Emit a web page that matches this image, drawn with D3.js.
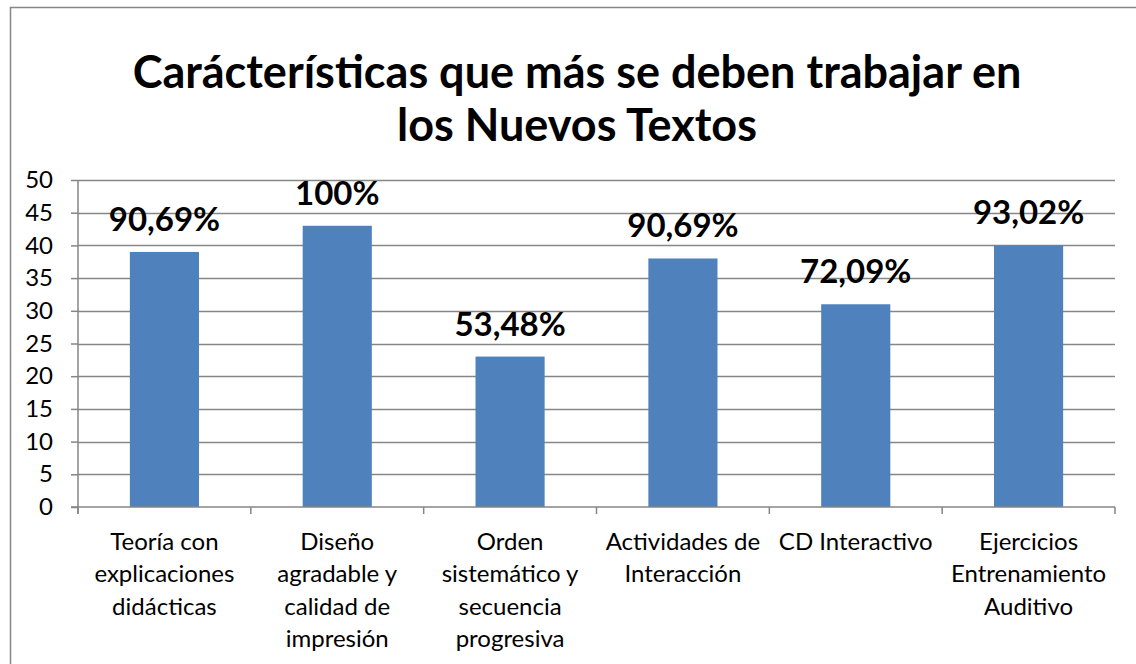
<!DOCTYPE html>
<html>
<head>
<meta charset="utf-8">
<script src="https://cdn.jsdelivr.net/npm/d3@7"></script>
<style>
  body { margin: 0; background: #fff; }
  text { font-family: Lato, "Open Sans", sans-serif; fill: #000; }
</style>
</head>
<body>
<div id="chart"></div>
<script>
// data
const categories = [
  "Teoría con\nexplicaciones\ndidácticas",
  "Diseño\nagradable y\ncalidad de\nimpresión",
  "Orden\nsistemático y\nsecuencia\nprogresiva",
  "Actividades de\nInteracción",
  "CD Interactivo",
  "Ejercicios\nEntrenamiento\nAuditivo"
];
const values = [39, 43, 23, 38, 31, 40];
const percentLabels = ["90,69%", "100%", "53,48%", "90,69%", "72,09%", "93,02%"];
const yTicks = [0, 5, 10, 15, 20, 25, 30, 35, 40, 45, 50];
const titleLines = ["Carácterísticas que más se deben trabajar en", "los Nuevos Textos"];

const width = 1136, height = 664;
const margin = { top: 180, right: 21, bottom: 157, left: 78 };

const svg = d3.select('#chart').append('svg')
  .attr('width', width)
  .attr('height', height);

// chart frame
svg.append('rect')
  .attr('x', 10.5).attr('y', 7.5)
  .attr('width', width + 20).attr('height', height + 20)
  .attr('fill', 'none')
  .attr('stroke', '#868686')
  .attr('stroke-width', 1.5);

// title
svg.append('text')
  .attr('x', 577)
  .attr('y', 88)
  .attr('text-anchor', 'middle')
  .style('font-weight', 'bold')
  .style('font-size', '45px')
  .selectAll('tspan').data(titleLines).enter()
  .append('tspan')
  .attr('x', 577)
  .attr('dy', (d, i) => i === 0 ? 0 : 53)
  .text(d => d);

const x = d3.scaleBand()
  .domain(categories)
  .range([margin.left, width - margin.right])
  .paddingInner(0.6)
  .paddingOuter(0.3);

const y = d3.scaleLinear()
  .domain([0, 50])
  .range([height - margin.bottom, margin.top]);

// gridlines
svg.append('g')
  .selectAll('line').data(yTicks.filter(d => d > 0)).enter()
  .append('line')
  .attr('x1', margin.left)
  .attr('x2', width - margin.right)
  .attr('y1', d => Math.round(y(d)) + 0.5)
  .attr('y2', d => Math.round(y(d)) + 0.5)
  .attr('stroke', '#868686')
  .attr('stroke-width', 1.5);

// y axis
const yAxis = d3.axisLeft(y).tickValues(yTicks).tickSize(7).tickPadding(18);
const yG = svg.append('g')
  .attr('transform', 'translate(' + margin.left + ',0)')
  .call(yAxis);
yG.selectAll('path, line').attr('stroke', '#868686').attr('stroke-width', 1.5);
yG.select('.domain').attr('d', 'M0,' + y(50) + 'V' + (y(0) + 7));
yG.selectAll('text').style('font-size', '24px').style('font-family', 'Lato, sans-serif').attr('fill', '#000');

// bars
svg.append('g')
  .selectAll('rect').data(values).enter()
  .append('rect')
  .attr('x', (d, i) => x(categories[i]))
  .attr('y', d => y(d))
  .attr('width', x.bandwidth())
  .attr('height', d => y(0) - y(d))
  .attr('fill', '#4F81BD');

// x axis with ticks between categories
const step = x.step();
const bounds = d3.range(categories.length + 1).map(i => margin.left + i * step);
const xG = svg.append('g');
xG.append('line')
  .attr('x1', margin.left - 7).attr('x2', width - margin.right)
  .attr('y1', y(0)).attr('y2', y(0))
  .attr('stroke', '#868686').attr('stroke-width', 1.5);
xG.selectAll('.tick').data(bounds).enter()
  .append('line')
  .attr('x1', d => d).attr('x2', d => d)
  .attr('y1', y(0)).attr('y2', y(0) + 7)
  .attr('stroke', '#868686').attr('stroke-width', 1.5);

// category labels
xG.selectAll('text.cat').data(categories).enter()
  .append('text')
  .attr('class', 'cat')
  .attr('text-anchor', 'middle')
  .style('font-size', '24px')
  .each(function (d) {
    const cx = x(d) + x.bandwidth() / 2;
    d3.select(this).selectAll('tspan').data(d.split('\n')).enter()
      .append('tspan')
      .attr('x', cx)
      .attr('y', (t, j) => 550 + j * 32.3)
      .text(t => t);
  });

// data labels
svg.append('g')
  .selectAll('text').data(values).enter()
  .append('text')
  .attr('x', (d, i) => x(categories[i]) + x.bandwidth() / 2)
  .attr('y', d => y(d) - 21)
  .attr('text-anchor', 'middle')
  .style('font-weight', 'bold')
  .style('font-size', '33px')
  .text((d, i) => percentLabels[i]);
</script>
</body>
</html>
